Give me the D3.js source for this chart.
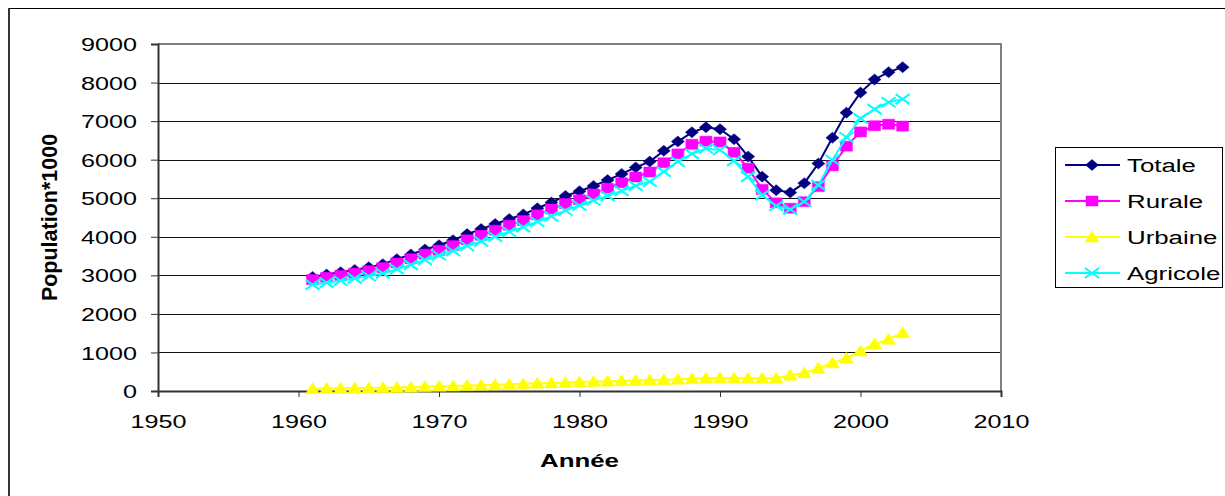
<!doctype html>
<html lang="fr">
<head>
<meta charset="UTF-8">
<title>Population</title>
<style>
  body { margin: 0; background: #fff; }
  svg { display: block; font-family: "Liberation Sans", Arial, sans-serif; }
</style>
</head>
<body>
<div id="chart"></div>
<script src="https://d3js.org/d3.v7.min.js"></script>
<script>
// valeurs (population * 1000)
const years = [1961, 1962, 1963, 1964, 1965, 1966, 1967, 1968, 1969, 1970,
  1971, 1972, 1973, 1974, 1975, 1976, 1977, 1978, 1979, 1980,
  1981, 1982, 1983, 1984, 1985, 1986, 1987, 1988, 1989, 1990,
  1991, 1992, 1993, 1994, 1995, 1996, 1997, 1998, 1999, 2000,
  2001, 2002, 2003]
const totale = [2960, 3020, 3080, 3140, 3210, 3290, 3420, 3540, 3670, 3780,
  3910, 4070, 4200, 4330, 4460, 4580, 4740, 4890, 5060, 5180,
  5320, 5470, 5630, 5800, 5950, 6230, 6470, 6710, 6840, 6790,
  6530, 6080, 5560, 5210, 5150, 5390, 5900, 6570, 7220, 7740,
  8080, 8270, 8400]
const rurale = [2890, 2950, 3000, 3060, 3120, 3200, 3320, 3430, 3550, 3650,
  3770, 3920, 4040, 4170, 4300, 4420, 4570, 4720, 4860, 4960,
  5110, 5260, 5400, 5550, 5680, 5920, 6150, 6400, 6480, 6460,
  6190, 5780, 5230, 4880, 4740, 4910, 5300, 5840, 6350, 6720,
  6880, 6920, 6870]
const urbaine = [60, 65, 70, 75, 80, 85, 90, 100, 110, 120,
  130, 140, 150, 160, 175, 185, 200, 210, 220, 235,
  245, 255, 265, 275, 285, 295, 305, 320, 330, 335,
  335, 330, 330, 330, 410, 470, 590, 730, 850, 1040,
  1220, 1340, 1510]
const agricole = [2760, 2810, 2860, 2920, 2980, 3050, 3160, 3270, 3400, 3520,
  3630, 3760, 3880, 4000, 4130, 4250, 4390, 4530, 4680, 4810,
  4940, 5060, 5190, 5320, 5430, 5690, 5950, 6150, 6290, 6250,
  5970, 5560, 5080, 4800, 4710, 4910, 5340, 5990, 6580, 7070,
  7310, 7490, 7570]
const seriesNames = ['Totale', 'Rurale', 'Urbaine', 'Agricole']
const xTicks = [1950, 1960, 1970, 1980, 1990, 2000, 2010]
const yTicks = [0, 1000, 2000, 3000, 4000, 5000, 6000, 7000, 8000, 9000]

const width = 1225
const height = 496
const plotLeft = 158, plotRight = 1001, plotTop = 44, plotBottom = 391
const sx = 1.36 // the original picture is stretched sideways

const series = [
  {name: seriesNames[0], values: totale, color: '#000080', marker: 'M0,-5.5L6.5,0L0,5.5L-6.5,0Z', fill: true},
  {name: seriesNames[1], values: rurale, color: '#ff00ff', marker: 'M-6,-5H6V5H-6Z', fill: true},
  {name: seriesNames[2], values: urbaine, color: '#ffff00', marker: 'M0,-6L7,5H-7Z', fill: true},
  {name: seriesNames[3], values: agricole, color: '#00ffff', marker: 'M-7,-5L7,5M-7,5L7,-5', fill: false}
]

const svg = d3.select('#chart').append('svg')
  .attr('width', width)
  .attr('height', height)

// cadre du graphique
svg.append('rect')
  .attr('x', 8.5).attr('y', 8.5)
  .attr('width', 1400).attr('height', 700)
  .attr('fill', 'none').attr('stroke', '#000').attr('stroke-width', 1)
svg.append('line')
  .attr('x1', 9).attr('x2', 9).attr('y1', 8).attr('y2', height)
  .attr('stroke', '#333').attr('stroke-width', 2)

const xScale = d3.scaleLinear().domain([1950, 2010]).range([plotLeft, plotRight])
const yScale = d3.scaleLinear().domain([0, 9000]).range([plotBottom, plotTop])

// quadrillage
svg.append('g').selectAll('line')
  .data(yTicks.filter(d => d > 0))
  .enter().append('line')
  .attr('x1', plotLeft).attr('x2', plotRight)
  .attr('y1', d => Math.round(yScale(d)) + 0.5)
  .attr('y2', d => Math.round(yScale(d)) + 0.5)
  .attr('stroke', '#111').attr('stroke-width', 1)

// bord de la zone de tracé
svg.append('path')
  .attr('d', `M${plotLeft},${plotTop}H${plotRight}V${plotBottom}`)
  .attr('fill', 'none').attr('stroke', '#808080').attr('stroke-width', 2)

const yAxis = d3.axisLeft(yScale).tickValues(yTicks).tickSize(7).tickFormat(d3.format('d'))
const gy = svg.append('g').attr('transform', `translate(${plotLeft}, 0)`).call(yAxis)
gy.select('.domain').attr('stroke', '#333').attr('stroke-width', 2)
gy.selectAll('.tick line').attr('stroke', '#333')
gy.selectAll('.tick text')
  .attr('x', -21 / sx).attr('dy', '0.36em')
  .attr('transform', `scale(${sx},1)`)
  .style('font-size', '18.5px').attr('fill', '#000')
  .attr('font-family', 'Liberation Sans, Arial, sans-serif')

const xAxis = d3.axisBottom(xScale).tickValues(xTicks).tickSize(6).tickFormat(d3.format('d'))
const gx = svg.append('g').attr('transform', `translate(0, ${plotBottom})`).call(xAxis)
gx.select('.domain').attr('stroke', '#333').attr('stroke-width', 2)
gx.selectAll('.tick line').attr('stroke', '#333')
gx.selectAll('.tick text')
  .attr('y', 37.5).attr('dy', 0)
  .attr('transform', `scale(${sx},1)`)
  .style('font-size', '18.5px').attr('fill', '#000')
  .attr('font-family', 'Liberation Sans, Arial, sans-serif')

// titres des axes
svg.append('text')
  .attr('transform', `translate(${(plotLeft + plotRight) / 2}, 467) scale(${sx},1)`)
  .attr('text-anchor', 'middle')
  .style('font-size', '19px').style('font-weight', 'bold')
  .text('Année')
svg.append('text')
  .attr('transform', `translate(57, ${(plotTop + plotBottom) / 2}) scale(1.05,1) rotate(-90)`)
  .attr('text-anchor', 'middle')
  .style('font-size', '21.5px').style('font-weight', 'bold')
  .text('Population*1000')

// séries
const line = d3.line()
  .x((d, i) => xScale(years[i]))
  .y(d => yScale(d))

series.forEach(s => {
  svg.append('path')
    .datum(s.values)
    .attr('d', line)
    .attr('fill', 'none')
    .attr('stroke', s.color)
    .attr('stroke-width', 2)
  svg.append('g').selectAll('path')
    .data(s.values)
    .enter().append('path')
    .attr('d', s.marker)
    .attr('transform', (d, i) => `translate(${xScale(years[i])}, ${yScale(d)})`)
    .attr('fill', s.fill ? s.color : 'none')
    .attr('stroke', s.color)
    .attr('stroke-width', s.fill ? 0.5 : 2)
})

// légende
const legend = svg.append('g')
legend.append('rect')
  .attr('x', 1055.5).attr('y', 147.5)
  .attr('width', 167).attr('height', 140)
  .attr('fill', '#fff').attr('stroke', '#000').attr('stroke-width', 1)
const legendY = d3.scalePoint().domain(seriesNames).range([165, 273])
series.forEach(s => {
  const g = legend.append('g').attr('transform', `translate(0, ${legendY(s.name)})`)
  g.append('line')
    .attr('x1', 1065).attr('x2', 1120)
    .attr('stroke', s.color).attr('stroke-width', 2)
  g.append('path')
    .attr('d', s.marker)
    .attr('transform', 'translate(1092, 0)')
    .attr('fill', s.fill ? s.color : 'none')
    .attr('stroke', s.color)
    .attr('stroke-width', s.fill ? 0.5 : 2)
  g.append('text')
    .attr('transform', `translate(1127, 6.8) scale(${sx},1)`)
    .style('font-size', '19px')
    .text(s.name)
})
</script>
</body>
</html>
